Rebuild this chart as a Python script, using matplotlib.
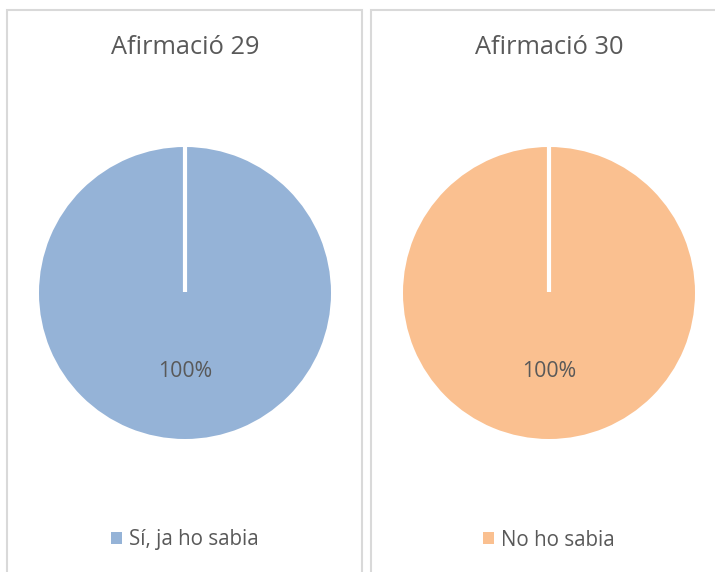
import matplotlib.pyplot as plt
from matplotlib.patches import Rectangle

plt.rcParams['font.family'] = ['Open Sans', 'DejaVu Sans']

# dades de les dues afirmacions
titols = ['Afirmació 29', 'Afirmació 30']
categories = [['Sí, ja ho sabia'], ['No ho sabia']]
valors = [[100], [100]]
colors = ['#95B3D7', '#FAC090']
gris = '#595959'

fig = plt.figure(figsize=(7.15, 5.72), dpi=100)

# marcs de cada gràfic
fig.patches.append(Rectangle((7 / 715, -0.1), 355 / 715, 1.1 - 10 / 572,
                             transform=fig.transFigure, fill=False,
                             edgecolor='#D9D9D9', lw=1.5))
fig.patches.append(Rectangle((371 / 715, -0.1), 0.5, 1.1 - 10 / 572,
                             transform=fig.transFigure, fill=False,
                             edgecolor='#D9D9D9', lw=1.5))

centres = [185, 549]
for i in range(2):
    cx = centres[i]
    ax = fig.add_axes([(cx - 146) / 715, (572 - 293 - 146) / 572, 292 / 715, 292 / 572])
    wedges, texts, autotexts = ax.pie(valors[i], colors=[colors[i]], startangle=90,
                                      counterclock=False, radius=1,
                                      autopct='%1.0f%%', pctdistance=0.54,
                                      textprops={'color': gris, 'fontsize': 15.3})
    # línia blanca de separació de la porció
    ax.plot([0, 0], [0.01, 1.01], color='white', lw=3, solid_capstyle='butt')
    ax.set_xlim(-1, 1)
    ax.set_ylim(-1, 1)
    ax.set_aspect('equal')
    ax.axis('off')

    fig.text(cx / 715, 1 - 48 / 572, titols[i], ha='center', va='center',
             fontsize=18.3, color=gris)
    fig.legend(wedges, categories[i], loc='center', frameon=False,
               bbox_to_anchor=(cx / 715, 1 - 540 / 572),
               handlelength=0.5, handleheight=0.5, handletextpad=0.35,
               fontsize=14.8, labelcolor=gris)

fig.savefig('out.png', dpi=100)
